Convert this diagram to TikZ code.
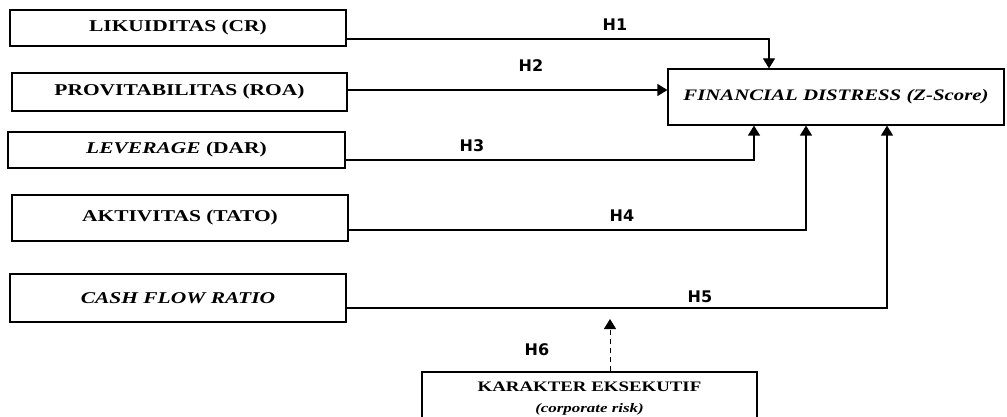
\documentclass[tikz,border=0pt]{standalone}
\usepackage{fontspec}
\setmainfont{Liberation Serif}
\newfontfamily\boxfont[FakeStretch=1.3]{Liberation Serif}
\newfontfamily\hypfont{DejaVu Sans}
\usetikzlibrary{arrows.meta}

\tikzset{
  varbox/.style={draw, line width=1.2pt, inner sep=0pt,
    font=\boxfont\bfseries\fontsize{16.5}{18}\selectfont},
  hyp/.style={font=\hypfont\bfseries\fontsize{16}{18}\selectfont},
  link/.style={line width=1.2pt, -{Triangle[width=12pt,length=10pt]}}
}

\begin{document}
\begin{tikzpicture}[x=1pt,y=-1pt]
\useasboundingbox (0,0) rectangle (1007,417);

% variables
\node[varbox, minimum width=336pt, minimum height=36pt] (cr) at (178,28) {LIKUIDITAS (CR)};
\node[varbox, minimum width=335pt, minimum height=38pt] (roa) at (179.5,92) {PROVITABILITAS (ROA)};
\node[varbox, minimum width=337pt, minimum height=36pt] (dar) at (176.5,150) {\textit{LEVERAGE} (DAR)};
\node[varbox, minimum width=336pt, minimum height=46pt] (tato) at (180,218) {AKTIVITAS (TATO)};
\node[varbox, minimum width=336pt, minimum height=48pt] (cfr) at (178,298) {\textit{CASH FLOW RATIO}};
\node[varbox, minimum width=336pt, minimum height=56pt,
  font=\boxfont\bfseries\fontsize{16}{18}\selectfont] (fd) at (836,97) {\textit{FINANCIAL DISTRESS (Z-Score)}};
\node[varbox, minimum width=335pt, minimum height=54pt, align=center,
  font=\boxfont\bfseries\fontsize{14.5}{16}\selectfont] (ke) at (589.5,399)
  {KARAKTER EKSEKUTIF\\[5pt]{\fontsize{13}{15}\selectfont\itshape (corporate risk)}};

% hypotheses
\draw[link] ([yshift=-11pt]cr.east) -| ([xshift=-67pt]fd.north);
\draw[link] ([yshift=2pt]roa.east) -- ([yshift=2pt]roa.east -| fd.west);
\draw[link] ([yshift=-10pt]dar.east) -| ([xshift=-82pt]fd.south);
\draw[link] ([yshift=-12pt]tato.east) -| ([xshift=-30pt]fd.south);
\draw[link] ([yshift=-10pt]cfr.east) -| ([xshift=51pt]fd.south);
\coordinate (h6tip) at (610,319);
\draw[link, line width=1pt, dash pattern=on 5pt off 4pt] (ke.north -| h6tip) -- (h6tip);

\node[hyp] (h1) at (615,25) {H1};
\node[hyp] (h2) at (531,66) {H2};
\node[hyp] (h3) at (472,146) {H3};
\node[hyp] (h4) at (622,216) {H4};
\node[hyp] (h5) at (700,297) {H5};
\node[hyp] (h6) at (537,350) {H6};
\end{tikzpicture}
\end{document}
